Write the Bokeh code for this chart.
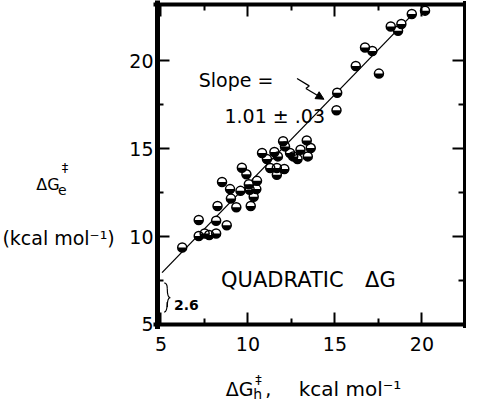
import math
from bokeh.plotting import figure
from bokeh.models import (ColumnDataSource, Range1d, LinearAxis, FixedTicker, Label,
                          Arrow, NormalHead)
from bokeh.embed import file_html
from bokeh.resources import INLINE

# ---- data ----
dg_h = [6.22, 7.17, 7.17, 7.51, 7.77, 8.17, 8.17, 8.25, 8.78, 8.51,
        8.97, 9.02, 9.33, 9.57, 9.65, 9.91, 10.05, 10.10, 10.33, 10.16,
        10.48, 10.52, 10.81, 11.09, 11.28, 11.52, 11.72, 11.66, 11.66, 12.09,
        12.02, 12.13, 12.42, 12.60, 12.85, 13.02, 13.38, 13.44, 13.61, 15.13,
        15.09, 16.20, 16.73, 17.15, 17.53, 18.21, 18.63, 18.82, 19.42, 20.18]
dg_e = [9.38, 10.94, 10.03, 10.18, 10.09, 10.18, 10.90, 11.74, 10.64, 13.10,
        12.70, 12.16, 11.67, 12.60, 13.91, 13.55, 12.98, 12.66, 12.27, 11.74,
        12.70, 13.17, 14.75, 14.41, 13.90, 14.81, 14.56, 13.90, 13.51, 13.84,
        15.42, 15.13, 14.75, 14.56, 14.41, 14.94, 15.47, 14.56, 15.04, 18.18,
        17.19, 19.70, 20.75, 20.56, 19.27, 21.95, 21.70, 22.09, 22.66, 22.85]

fit_x = [5.06, 19.6]
fit_y = [7.95, 22.78]

major_ticks = [5, 10, 15, 20]
minor_ticks = [7.5, 12.5, 17.5]

# axis box (data units)
X0, X1 = 4.8, 22.45
Y0, Y1 = 5.0, 23.2

FONT = "DejaVu Sans"

p = figure(width=466, height=404, x_range=Range1d(-4.228, 22.565),
           y_range=Range1d(0.449, 23.4275),
           x_axis_location=None, y_axis_location=None,
           output_backend="svg", toolbar_location=None,
           min_border_left=0, min_border_right=0, min_border_top=0, min_border_bottom=0)
p.grid.visible = False
p.outline_line_color = None
p.background_fill_color = "white"
p.border_fill_color = "white"


def make_axis(loc, bounds, width, labels=True, standoff=4):
    ax = LinearAxis(fixed_location=loc, bounds=bounds,
                    ticker=FixedTicker(ticks=major_ticks, minor_ticks=minor_ticks))
    ax.axis_line_width = width
    ax.axis_line_color = "black"
    ax.axis_line_cap = "square"
    ax.major_tick_in = 12
    ax.major_tick_out = 0
    ax.minor_tick_in = 6
    ax.minor_tick_out = 0
    ax.major_tick_line_width = 2
    ax.minor_tick_line_width = 2
    ax.major_tick_line_color = "black"
    ax.minor_tick_line_color = "black"
    ax.major_label_text_font = FONT
    ax.major_label_text_font_size = "19px"
    if labels:
        ax.major_label_text_color = "black"
        ax.major_label_standoff = standoff
    else:
        ax.major_label_text_color = None
        ax.major_label_standoff = 0
    return ax


xb = (X0 - 0.1, X1 + 0.06)
yb = (Y0 - 0.09, Y1 + 0.09)
p.add_layout(make_axis(Y0, xb, 4, labels=True, standoff=13), "below")
p.add_layout(make_axis(X0, yb, 5, labels=True, standoff=4), "left")
p.add_layout(make_axis(Y1, xb, 4, labels=False), "above")
p.add_layout(make_axis(X1, yb, 3, labels=False), "right")

# fit line
p.line(fit_x, fit_y, line_color="black", line_width=1.3)

# half-filled circles
src = ColumnDataSource(dict(x=dg_h, y=dg_e))
p.scatter("x", "y", source=src, marker="circle", size=9, fill_color="white",
          line_color=None)
p.wedge("x", "y", source=src, radius=4.5, radius_units="screen",
        start_angle=math.pi, end_angle=2 * math.pi,
        fill_color="black", line_color=None)
p.scatter("x", "y", source=src, marker="circle", size=9, fill_color=None,
          line_color="black", line_width=1.5)


def lab(x, y, text, size, align="left", baseline="alphabetic", bold=False):
    p.add_layout(Label(x=x, y=y, text=text, text_font=FONT, text_font_size=size,
                       text_align=align, text_baseline=baseline, text_color="black",
                       text_font_style="bold" if bold else "normal"))


# annotations inside
lab(7.17, 18.9, "Slope =", "19px")
lab(8.65, 16.87, "1.01 ± .03", "19px")
lab(8.45, 7.53, "QUADRATIC", "21px")
lab(16.73, 7.53, "ΔG", "21px")
lab(5.75, 6.1, "2.6", "14px", bold=True)

# zig-zag arrow
p.line([12.82, 13.52, 13.33], [18.99, 18.57, 18.42], line_color="black", line_width=1.3)
p.add_layout(Arrow(end=NormalHead(size=8, fill_color="black", line_color="black"),
                   x_start=13.33, y_start=18.42, x_end=14.37, y_end=17.81,
                   line_color="black", line_width=1.3))

# brace
bx0, bx1, bxa = 5.18, 5.53, 5.36
byt, bym, byb = 7.36, 6.53, 5.7
p.quadratic(x0=[bx0, bxa, bx1, bxa], y0=[byt, byt - 0.3, bym, bym - 0.25],
            x1=[bxa, bx1, bxa, bx0], y1=[byt - 0.3, bym, byb + 0.3, byb],
            cx=[bxa, bxa, bxa, bxa], cy=[byt, bym, bym, byb],
            line_color="black", line_width=1.2)

# y axis label
lab(-2.17, 12.96, "ΔG", "16px")
lab(-0.92, 12.67, "e", "14px")
lab(-0.52, 13.93, "‡", "13px", align="center", baseline="middle")
lab(-4.12, 9.93, "(kcal mol⁻¹)", "19px")

# x axis label
lab(8.72, 1.35, "ΔG", "19px")
lab(10.3, 1.02, "h", "14px")
lab(10.6, 1.85, "‡", "13px", align="center", baseline="middle")
lab(11.0, 1.35, ",", "19px")
lab(12.92, 1.35, "kcal mol⁻¹", "20px")

open("out.html", "w").write(file_html(p, INLINE))
